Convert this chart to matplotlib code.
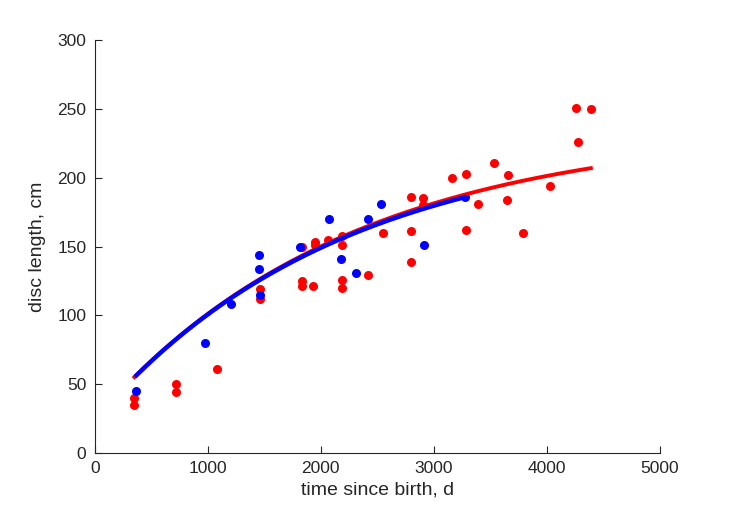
import numpy as np
import matplotlib.pyplot as plt

plt.rcParams['font.family'] = ['Liberation Sans', 'DejaVu Sans']

# red data set: time since birth (d), disc length (cm)
red_t = [345, 345, 717, 717, 1080, 1460, 1460, 1832, 1832, 1832, 1929,
         1947, 1947, 2062, 2186, 2186, 2186, 2186, 2416, 2549, 2797, 2797,
         2797, 2903, 2903, 3159, 3283, 3283, 3389, 3531, 3655, 3646, 3788,
         4027, 4257, 4274, 4389]
red_L = [40, 35, 50, 44, 61, 119, 112, 150, 125, 121, 121,
         153, 151, 155, 158, 151, 126, 120, 129, 160, 186, 161,
         139, 185, 180, 200, 203, 162, 181, 211, 202, 184, 160,
         194, 251, 226, 250]

# blue data set
blue_t = [363, 973, 1204, 1451, 1451, 1460, 1814, 2071, 2177, 2310, 2416,
          2531, 2912, 3274]
blue_L = [45, 80, 108, 144, 134, 115, 150, 170, 141, 131, 170,
          181, 151, 186]

# von Bertalanffy fits: L(t) = Linf - A*exp(-k*t)
red_fit = dict(Linf=236.4, A=212.3, k=0.00045, t0=351, t1=4390)
blue_fit = dict(Linf=232.0, A=208.0, k=0.00046, t0=369, t1=3274)


def vb_curve(p):
    t = np.linspace(p['t0'], p['t1'], 200)
    return t, p['Linf'] - p['A'] * np.exp(-p['k'] * t)


fig = plt.figure(figsize=(7.29, 5.21), dpi=100)
ax = fig.add_axes([0.130, 0.1305, 0.775, 0.7925])

ax.plot(red_t, red_L, 'o', color='#ff0000', markersize=6.5, markeredgewidth=0)
ax.plot(blue_t, blue_L, 'o', color='#0000ff', markersize=6.5, markeredgewidth=0)

t, L = vb_curve(red_fit)
ax.plot(t, L, color='#ff0000', lw=2.8)
t, L = vb_curve(blue_fit)
ax.plot(t, L, color='#0000ff', lw=3.2)

ax.set_xlim(0, 5000)
ax.set_ylim(0, 300)
ax.set_xticks(range(0, 5001, 1000))
ax.set_yticks(range(0, 301, 50))

dark = '#262626'
for side in ['top', 'right']:
    ax.spines[side].set_visible(False)
for side in ['left', 'bottom']:
    ax.spines[side].set_color(dark)
    ax.spines[side].set_linewidth(0.8)
ax.tick_params(direction='in', length=5, width=0.8, colors=dark,
               labelsize=12.5, pad=6)

ax.set_xlabel('time since birth, d', fontsize=14, color=dark, labelpad=4)
ax.set_ylabel('disc length, cm', fontsize=14, color=dark, labelpad=8)

fig.savefig('out.png', dpi=100)
